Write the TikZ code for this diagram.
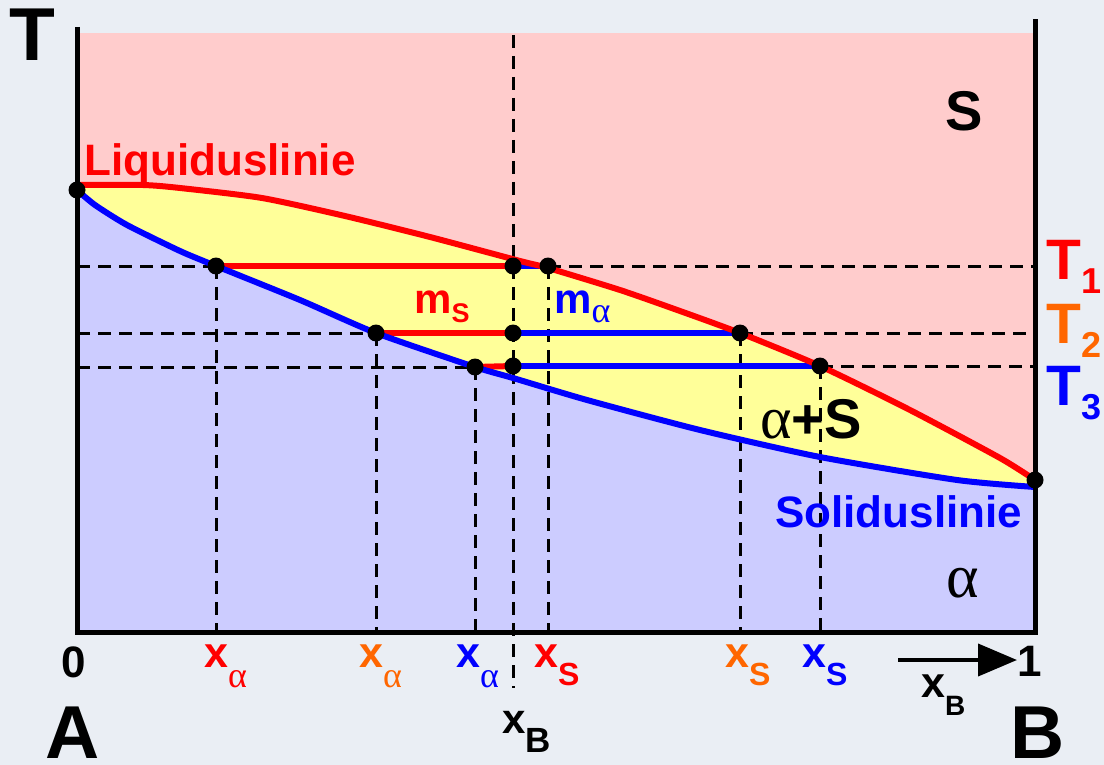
\documentclass[tikz,border=0pt]{standalone}
\usepackage{fontspec}
\setmainfont{Liberation Sans}
\newfontfamily\grk{Liberation Serif}
\usetikzlibrary{arrows.meta}
\definecolor{bg}{RGB}{234,238,244}
\definecolor{pinkr}{RGB}{255,204,204}
\definecolor{yel}{RGB}{255,255,153}
\definecolor{lav}{RGB}{204,204,255}
\definecolor{ored}{RGB}{255,0,0}
\definecolor{oblue}{RGB}{0,0,255}
\definecolor{oor}{RGB}{255,102,0}
\newcommand\fsz[1]{\fontsize{#1}{#1}\selectfont}
\newcommand\liq{(77,185) (143,185) (180,188) (262,198) (345,216) (430,237) (520,261) (548,268) (620,290) (680,311) (740,333) (820,366) (910,410) (1000,458) (1035,480)}
\newcommand\sol{(77,190) (95,205) (127,225) (180,251) (216,266) (300,300) (376,333) (475,367) (513,378) (587,400) (700,430) (820,457) (957,480) (1035,487)}
\newcommand\solrev{(1035,487) (957,480) (820,457) (700,430) (587,400) (513,378) (475,367) (376,333) (300,300) (216,266) (180,251) (127,225) (95,205) (77,190)}
\begin{document}
\begin{tikzpicture}[x=1pt,y=-1pt,
 dot/.style={circle,fill=black,inner sep=0pt,minimum size=17pt},
 dsh/.style={line width=3pt,dash pattern=on 13pt off 8pt},
 tie/.style={line width=6pt},
 curve/.style={line width=6pt,line join=round},
 lbl/.style={inner sep=0pt,anchor=base west}]
\useasboundingbox (0,0) rectangle (1104,765);
\fill[bg] (0,0) rectangle (1104,765);
% regions
\fill[pinkr] (77,33) rectangle (1035,632);
\fill[yel] plot[smooth,tension=0.4] coordinates {\liq} -- plot[smooth,tension=0.4] coordinates {\solrev} -- cycle;
\fill[lav] plot[smooth,tension=0.4] coordinates {\sol} -- (1035,632) -- (77,632) -- cycle;
% coordinates
\coordinate (O) at (77,632);
\coordinate (L0) at (77,190);
\coordinate (R0) at (1035,480);
\coordinate (S1) at (216,266);
\coordinate (M1) at (513,266);
\coordinate (L1) at (548,266);
\coordinate (S2) at (376,333);
\coordinate (M2) at (513,333);
\coordinate (L2) at (740,333);
\coordinate (S3) at (475,367);
\coordinate (M3) at (513,366);
\coordinate (L3) at (820,366);
\coordinate (A1) at (77,266);
\coordinate (A2) at (77,333);
\coordinate (A3) at (77,367);
\coordinate (B1) at (1035,266);
\coordinate (B2) at (1035,333);
\coordinate (B3) at (1035,366);
\coordinate (XT) at (513,35);
\coordinate (XE) at (513,688);
% dashed lines
\draw[dsh] (A1) -- (S1);
\draw[dsh] (L1) -- (B1);
\draw[dsh] (A2) -- (S2);
\draw[dsh] (L2) -- (B2);
\draw[dsh] (A3) -- (S3);
\draw[dsh] (L3) -- (B3);
\draw[dsh] (S1) -- (S1 |- O);
\draw[dsh] (S2) -- (S2 |- O);
\draw[dsh] (S3) -- (S3 |- O);
\draw[dsh] (L1) -- (L1 |- O);
\draw[dsh] (L2) -- (L2 |- O);
\draw[dsh] (L3) -- (L3 |- O);
\draw[dsh] (XT) -- (XE);
% tie lines
\draw[tie,ored] (S1) -- (M1);
\draw[tie,oblue] (M1) -- (L1);
\draw[tie,ored] (S2) -- (M2);
\draw[tie,oblue] (M2) -- (L2);
\draw[tie,ored] (S3) -- (M3);
\draw[tie,oblue] (M3) -- (L3);
% curves
\draw[curve,oblue] plot[smooth,tension=0.4] coordinates {\sol};
\draw[curve,ored] plot[smooth,tension=0.4] coordinates {\liq};
% axes
\draw[line width=5pt] (77,27) -- (77,632) -- (1035,632) -- (1035,19);
% dots
\foreach \p in {L0,R0,S1,M1,L1,S2,M2,L2,S3,M3,L3} \node[dot] (d\p) at (\p) {};
% arrow
\coordinate (ar1) at (898,660);
\coordinate (ar2) at (1017,660);
\draw[line width=4pt,-{Triangle[length=39pt,width=32pt]}] (ar1) -- (ar2);
% texts
\node[lbl,font=\bfseries\fsz{75}] (tT) at (9,61) {T};
\node[lbl,font=\bfseries\fsz{75}] (tA) at (45,758) {A};
\node[lbl,font=\bfseries\fsz{75}] (tB) at (1010,758) {B};
\node[lbl,font=\bfseries\fsz{56}] (tS) at (945,131) {S};
\node[lbl,ored,font=\bfseries\fsz{44}] (tLiq) at (84,176) {Liquiduslinie};
\node[lbl,oblue,font=\bfseries\fsz{44}] (tSol) at (775,527) {Soliduslinie};
\node[lbl,font=\bfseries\fsz{56}] (tAS) at (760,438) {{\grk\mdseries\fsz{60}α}+S};
\node[lbl,font=\mdseries\fsz{62}\grk] (tal) at (946,597) {α};
\node[lbl,ored,font=\bfseries\fsz{42}] (tmS) at (414,313) {m\raisebox{-9pt}{\fsz{27}S}};
\node[lbl,oblue,font=\bfseries\fsz{42}] (tma) at (554,313) {m\raisebox{-9pt}{\grk\mdseries\fsz{36}α}};
\node[lbl,ored,font=\bfseries\fsz{57}] (tT1) at (1046,279) {T\raisebox{-14pt}{\fsz{36}1}};
\node[lbl,oor,font=\bfseries\fsz{57}] (tT2) at (1046,343) {T\raisebox{-14pt}{\fsz{36}2}};
\node[lbl,oblue,font=\bfseries\fsz{57}] (tT3) at (1046,405) {T\raisebox{-14pt}{\fsz{36}3}};
\node[lbl,font=\bfseries\fsz{44}] (t0) at (61,677) {0};
\node[lbl,font=\bfseries\fsz{44}] (t1) at (1017,676) {1};
\node[lbl,ored,font=\bfseries\fsz{43}] (xa1) at (204,667) {x\raisebox{-20pt}{\grk\mdseries\fsz{36}α}};
\node[lbl,oor,font=\bfseries\fsz{43}] (xa2) at (359,667) {x\raisebox{-20pt}{\grk\mdseries\fsz{36}α}};
\node[lbl,oblue,font=\bfseries\fsz{43}] (xa3) at (456,667) {x\raisebox{-20pt}{\grk\mdseries\fsz{36}α}};
\node[lbl,ored,font=\bfseries\fsz{43}] (xs1) at (534,667) {x\raisebox{-18pt}{\fsz{32}S}};
\node[lbl,oor,font=\bfseries\fsz{43}] (xs2) at (725,667) {x\raisebox{-18pt}{\fsz{32}S}};
\node[lbl,oblue,font=\bfseries\fsz{43}] (xs3) at (802,667) {x\raisebox{-18pt}{\fsz{32}S}};
\node[lbl,font=\bfseries\fsz{42}] (xb1) at (502,733) {x\raisebox{-19pt}{\fsz{35}B}};
\node[lbl,font=\bfseries\fsz{43}] (xb2) at (921,697) {x\raisebox{-18pt}{\fsz{28}B}};
\end{tikzpicture}
\end{document}
